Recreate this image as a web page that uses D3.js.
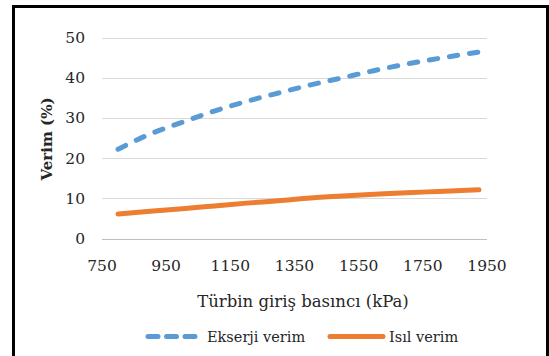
<!DOCTYPE html>
<html>
<head>
<meta charset="utf-8">
<script src="https://cdn.jsdelivr.net/npm/d3@7"></script>
<style>
  body { margin: 0; background: #fff; }
  svg { display: block; }
  text { font-family: "DejaVu Serif", "Liberation Serif", serif; fill: #262626; }
</style>
</head>
<body>
<svg id="chart"></svg>
<script>
var width = 549;
var height = 356;

// data
var pressure = [800, 900, 1000, 1100, 1200, 1300, 1400, 1500, 1600, 1700, 1800, 1925];
var ekserji  = [22.2, 26.0, 28.9, 31.7, 34.1, 36.2, 38.2, 40.0, 41.8, 43.4, 44.8, 46.4];
var isil     = [6.1, 6.8, 7.4, 8.1, 8.8, 9.4, 10.1, 10.6, 11.0, 11.4, 11.7, 12.1];
var xTicks = [750, 950, 1150, 1350, 1550, 1750, 1950];
var yTicks = [0, 10, 20, 30, 40, 50];
var seriesNames = ["Ekserji verim", "Isıl verim"];

var svg = d3.select("#chart")
    .attr("width", width)
    .attr("height", height);

svg.append("rect")
    .attr("width", width)
    .attr("height", height)
    .attr("fill", "white");

// outer frame
svg.append("rect")
    .attr("x", 13.5)
    .attr("y", 6.5)
    .attr("width", 534)
    .attr("height", 400)
    .attr("fill", "none")
    .attr("stroke", "#000")
    .attr("stroke-width", 3);

var x = d3.scaleLinear().domain([750, 1950]).range([102, 487]);
var y = d3.scaleLinear().domain([0, 50]).range([238.5, 37.5]);

// gridlines
svg.append("g")
    .selectAll("line")
    .data(yTicks)
    .enter().append("line")
    .attr("x1", x(750))
    .attr("x2", x(1950))
    .attr("y1", function(d) { return Math.round(y(d)) + 0.5; })
    .attr("y2", function(d) { return Math.round(y(d)) + 0.5; })
    .attr("stroke", function(d) { return d === 0 ? "#bfbfbf" : "#d9d9d9"; })
    .attr("stroke-width", 1.2);

// y tick labels
svg.append("g")
    .selectAll("text")
    .data(yTicks)
    .enter().append("text")
    .attr("x", 85)
    .attr("y", function(d) { return y(d); })
    .attr("dy", "0.36em")
    .attr("text-anchor", "end")
    .attr("font-size", "15.5px")
    .text(function(d) { return d; });

// x tick labels
svg.append("g")
    .selectAll("text")
    .data(xTicks)
    .enter().append("text")
    .attr("x", x)
    .attr("y", 271)
    .attr("text-anchor", "middle")
    .attr("font-size", "15.5px")
    .text(function(d) { return d; });

// axis titles
svg.append("text")
    .attr("transform", "translate(52,139) rotate(-90)")
    .attr("text-anchor", "middle")
    .attr("font-size", "15px")
    .attr("font-weight", "bold")
    .text("Verim (%)");

svg.append("text")
    .attr("x", 303)
    .attr("y", 307)
    .attr("text-anchor", "middle")
    .attr("font-size", "16.5px")
    .text("Türbin giriş basıncı (kPa)");

var line = d3.line()
    .x(function(d) { return x(d[0]); })
    .y(function(d) { return y(d[1]); })
    .curve(d3.curveMonotoneX);

svg.append("path")
    .datum(d3.zip(pressure, isil))
    .attr("d", line)
    .attr("fill", "none")
    .attr("stroke", "#ED7D31")
    .attr("stroke-width", 5)
    .attr("stroke-linecap", "round");

svg.append("path")
    .datum(d3.zip(pressure, ekserji))
    .attr("d", line)
    .attr("fill", "none")
    .attr("stroke", "#5B9BD5")
    .attr("stroke-width", 5)
    .attr("stroke-linecap", "round")
    .attr("stroke-dasharray", "8.5,11.8");

// legend
var legend = svg.append("g");
legend.append("line")
    .attr("x1", 148).attr("x2", 198)
    .attr("y1", 336.5).attr("y2", 336.5)
    .attr("stroke", "#5B9BD5")
    .attr("stroke-width", 5)
    .attr("stroke-linecap", "round")
    .attr("stroke-dasharray", "10,8.5");
legend.append("text")
    .attr("x", 207).attr("y", 342)
    .attr("font-size", "14.5px")
    .text(seriesNames[0]);
legend.append("line")
    .attr("x1", 330).attr("x2", 383)
    .attr("y1", 336.5).attr("y2", 336.5)
    .attr("stroke", "#ED7D31")
    .attr("stroke-width", 5)
    .attr("stroke-linecap", "round");
legend.append("text")
    .attr("x", 389).attr("y", 342)
    .attr("font-size", "14.5px")
    .text(seriesNames[1]);
</script>
</body>
</html>
